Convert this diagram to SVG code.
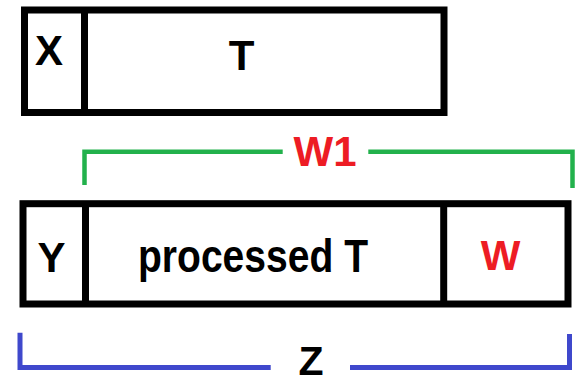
<svg xmlns="http://www.w3.org/2000/svg" width="580" height="378" viewBox="0 0 580 378">
<style>
.box{fill:#fff;stroke:#000;stroke-width:7}
.div{stroke:#000;stroke-width:7}
text{font-family:"Liberation Sans",Arial,sans-serif;font-weight:bold;font-size:42px;text-anchor:middle;fill:#000}
.red{fill:#ed1c24}
.green{fill:none;stroke:#22b14c;stroke-width:4.5}
.blue{fill:none;stroke:#3f48cc;stroke-width:5}
</style>
<rect width="580" height="378" fill="#fff"/>
<g id="top-row">
  <rect class="box" x="24.5" y="10" width="419.5" height="102.5"/>
  <line class="div" x1="84.5" y1="10" x2="84.5" y2="112.5"/>
  <g id="node-X"><text x="49" y="65">X</text></g>
  <g id="node-T"><text x="241.5" y="70">T</text></g>
</g>
<g id="bottom-row">
  <rect class="box" x="23" y="203.7" width="545" height="100.3"/>
  <line class="div" x1="85.5" y1="203.7" x2="85.5" y2="304"/>
  <line class="div" x1="443.7" y1="203.7" x2="443.7" y2="304"/>
  <g id="node-Y"><text x="51.5" y="272">Y</text></g>
  <g id="node-processedT"><text x="253" y="272" style="font-size:46px" textLength="230" lengthAdjust="spacingAndGlyphs">processed T</text></g>
  <g id="node-W"><text class="red" x="500.5" y="270">W</text></g>
</g>
<g id="connectors">
  <polyline class="green" points="84.5,185 84.5,151.7 282.7,151.7"/>
  <polyline class="green" points="368.3,151.7 572.5,151.7 572.5,188"/>
  <polyline class="blue" points="20,332.7 20,367.5 270.7,367.5"/>
  <polyline class="blue" points="350,367.5 569.5,367.5 569.5,334"/>
</g>
<g id="label-W1"><text class="red" x="325" y="166">W1</text></g>
<g id="label-Z"><text x="311" y="375" style="font-size:41px">Z</text></g>
</svg>
